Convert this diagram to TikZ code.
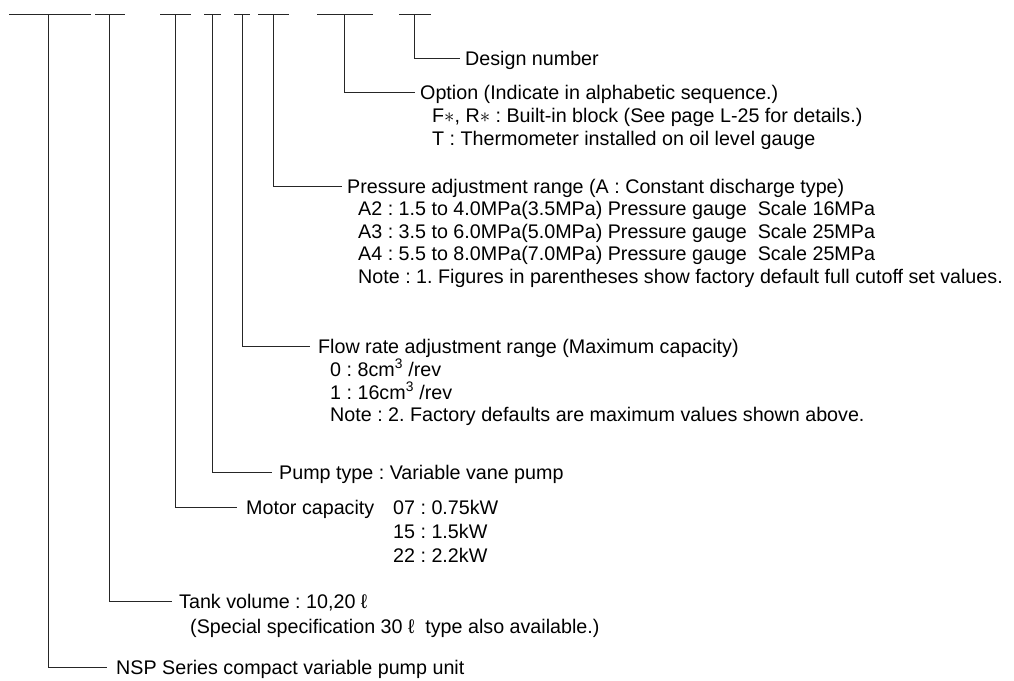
\documentclass[tikz,border=0pt]{standalone}
\usepackage{fontspec}
\setmainfont{Liberation Sans}
\frenchspacing
\begin{document}
\frenchspacing
\begin{tikzpicture}[x=1pt,y=-1pt,
  ln/.style={line width=1pt, black!85},
  lbl/.style={anchor=west, inner xsep=0pt, inner ysep=0pt,
    font=\fontsize{19.7}{22.5}\selectfont, text height=15pt, text depth=1pt},
  head/.style={lbl, inner xsep=5pt}]
\useasboundingbox (0,0) rectangle (1014,680);
% top segments
\foreach \a/\b in {9/91,95/125,160/191,204/221,234/250,258/289,317/373,399/431}
  \draw[ln] (\a,14) -- (\b,14);
\coordinate (v1) at (48,14);
\coordinate (v2) at (109,14);
\coordinate (v3) at (175,14);
\coordinate (v4) at (212,14);
\coordinate (v5) at (242,14);
\coordinate (v6) at (273,14);
\coordinate (v7) at (344,14);
\coordinate (v8) at (414,14);
% design number
\node[head] (dn) at (460,58) {Design number};
\draw[ln] (v8) |- (dn.west);
% option
\node[head] (opt) at (415,92) {Option (Indicate in alphabetic sequence.)};
\node[lbl] (opt1) at (432,115) {F$\ast$, R$\ast$ : Built-in block (See page L-25 for details.)};
\node[lbl] (opt2) at (432,138) {T : Thermometer installed on oil level gauge};
\draw[ln] (v7) |- (opt.west);
% pressure
\node[head] (pr) at (342,186) {Pressure adjustment range (A : Constant discharge type)};
\node[lbl] (pr1) at (358,208.5) {A2 : 1.5 to 4.0MPa(3.5MPa) Pressure gauge\ \ Scale 16MPa};
\node[lbl] (pr2) at (358,231) {A3 : 3.5 to 6.0MPa(5.0MPa) Pressure gauge\ \ Scale 25MPa};
\node[lbl] (pr3) at (358,253.5) {A4 : 5.5 to 8.0MPa(7.0MPa) Pressure gauge\ \ Scale 25MPa};
\node[lbl] (pr4) at (358,276) {Note : 1. Figures in parentheses show factory default full cutoff set values.};
\draw[ln] (v6) |- (pr.west);
% flow
\node[head, inner xsep=8pt] (fl) at (310,346) {Flow rate adjustment range (Maximum capacity)};
\node[lbl] (fl1) at (330,369) {0 : 8cm\textsuperscript{3} /rev};
\node[lbl] (fl2) at (330,392) {1 : 16cm\textsuperscript{3} /rev};
\node[lbl] (fl3) at (330,414.5) {Note : 2. Factory defaults are maximum values shown above.};
\draw[ln] (v5) |- (fl.west);
% pump
\node[head, inner xsep=7pt] (pu) at (272,472) {Pump type : Variable vane pump};
\draw[ln] (v4) |- (pu.west);
% motor
\node[head, inner xsep=9pt] (mo) at (237,507) {Motor capacity};
\node[lbl] (mo1) at (393,507) {07 : 0.75kW};
\node[lbl] (mo2) at (393,531) {15 : 1.5kW};
\node[lbl] (mo3) at (393,555) {22 : 2.2kW};
\draw[ln] (v3) |- (mo.west);
% tank
\node[head, inner xsep=7pt] (ta) at (172,601) {Tank volume : 10,20 ℓ};
\node[lbl] (ta1) at (190,626) {(Special specification 30 ℓ\ \ type also available.)};
\draw[ln] (v2) |- (ta.west);
% NSP
\node[head, inner xsep=9pt] (ns) at (107,667) {NSP Series compact variable pump unit};
\draw[ln] (v1) |- (ns.west);
\end{tikzpicture}
\end{document}
